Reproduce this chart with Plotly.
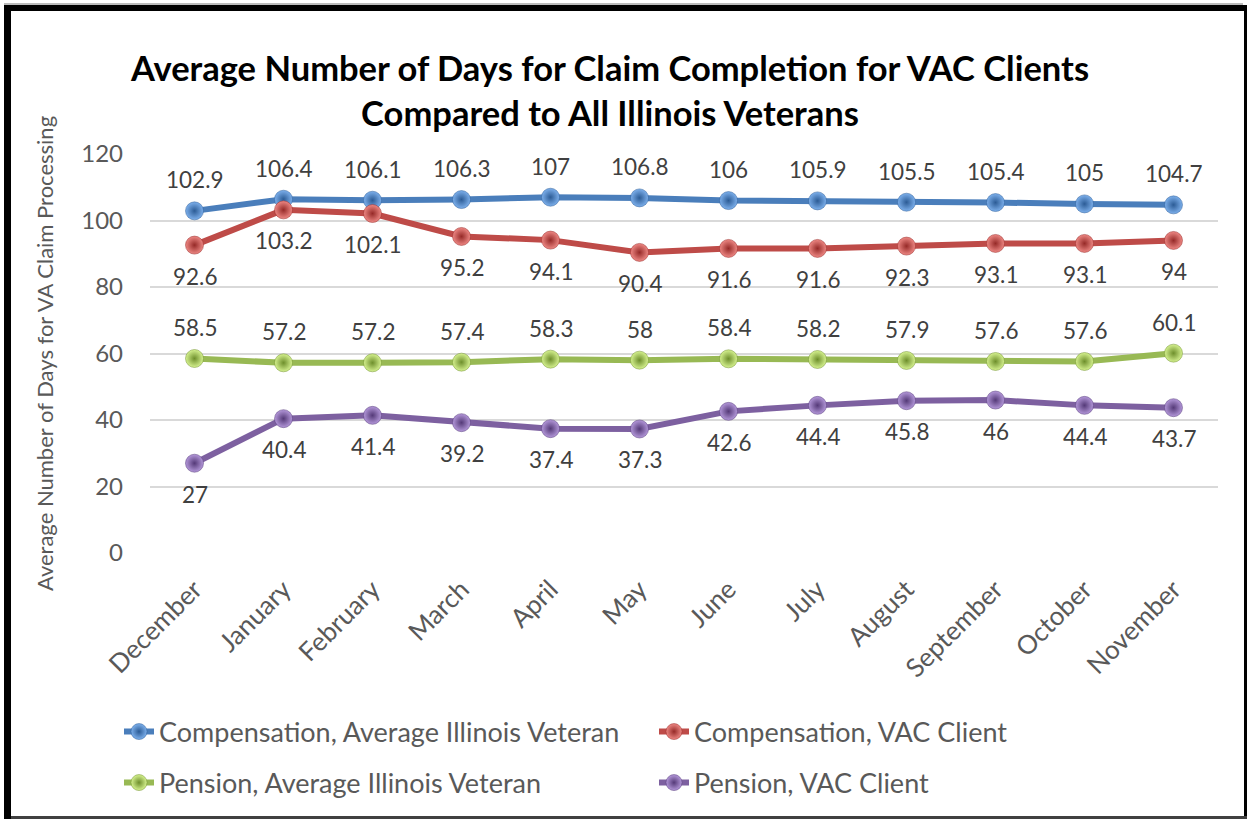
import plotly.graph_objects as go

months = ["December", "January", "February", "March", "April", "May", "June",
          "July", "August", "September", "October", "November"]
comp_avg = [102.9, 106.4, 106.1, 106.3, 107, 106.8, 106, 105.9, 105.5, 105.4, 105, 104.7]
comp_vac = [92.6, 103.2, 102.1, 95.2, 94.1, 90.4, 91.6, 91.6, 92.3, 93.1, 93.1, 94]
pen_avg = [58.5, 57.2, 57.2, 57.4, 58.3, 58, 58.4, 58.2, 57.9, 57.6, 57.6, 60.1]
pen_vac = [27, 40.4, 41.4, 39.2, 37.4, 37.3, 42.6, 44.4, 45.8, 46, 44.4, 43.7]

series = [
    ("Compensation, Average Illinois Veteran", comp_avg, "#4A7EBB", "#7DB0EC", "#2C5C96", 1, "legend"),
    ("Compensation, VAC Client", comp_vac, "#BE4B48", "#EE8884", "#962A28", -1, "legend"),
    ("Pension, Average Illinois Veteran", pen_avg, "#98B954", "#D6F290", "#6E8F2C", 1, "legend2"),
    ("Pension, VAC Client", pen_vac, "#7D60A0", "#B498DA", "#553A78", -1, "legend2"),
]

FONT = "Lato, Calibri, Carlito, sans-serif"
W, H = 1247, 821
ML, MR, MT, MB = 150, 29, 154, 268
PW, PH = W - ML - MR, H - MT - MB

def px(x):
    return (x - ML) / PW

def py(y):
    return (H - MB - y) / PH

fig = go.Figure()
annotations = []
for name, vals, col, light, dark, side, leg in series:
    fig.add_trace(go.Scatter(
        x=months, y=vals, name=name, mode="lines+markers",
        line=dict(color=col, width=6),
        marker=dict(size=18, color=light, gradient=dict(type="radial", color=dark),
                    line=dict(width=0.5, color=dark)),
        legend=leg,
    ))
    for m, v in zip(months, vals):
        annotations.append(dict(
            x=m, y=v, xref="x", yref="y", text=f"{v:g}", showarrow=False,
            yshift=31 * side, font=dict(family=FONT, size=22.5, color="#404040"),
        ))

# chart border (Excel-style frame)
shapes = [
    dict(type="rect", xref="paper", yref="paper", x0=px(4), x1=px(1243), y0=py(3), y1=py(5),
         fillcolor="#BBBBBB", line=dict(width=0), layer="above"),
    dict(type="rect", xref="paper", yref="paper", x0=px(4), x1=px(1244), y0=py(5), y1=py(11),
         fillcolor="black", line=dict(width=0), layer="above"),
    dict(type="rect", xref="paper", yref="paper", x0=px(4), x1=px(11), y0=py(5), y1=py(819),
         fillcolor="black", line=dict(width=0), layer="above"),
    dict(type="rect", xref="paper", yref="paper", x0=px(1244), x1=px(1247), y0=py(5), y1=py(819),
         fillcolor="black", line=dict(width=0), layer="above"),
    dict(type="rect", xref="paper", yref="paper", x0=px(11), x1=px(1247), y0=py(816), y1=py(819),
         fillcolor="#404040", line=dict(width=0), layer="above"),
]

legend_common = dict(
    orientation="h", x=px(119), xanchor="left", yanchor="middle",
    entrywidth=490, entrywidthmode="pixels", font=dict(size=27, color="#595959"),
    bgcolor="rgba(0,0,0,0)",
)

fig.update_layout(
    width=W, height=H,
    margin=dict(l=ML, r=MR, t=MT, b=MB),
    paper_bgcolor="white", plot_bgcolor="white",
    font=dict(family=FONT, color="#595959"),
    title=dict(
        text="Average Number of Days for Claim Completion for VAC Clients<br>Compared to All Illinois Veterans",
        xref="container", x=610 / W, xanchor="center", yref="container", y=1 - 81 / H, yanchor="middle",
        font=dict(family=FONT, size=34.5, color="black", weight="bold"),
    ),
    xaxis=dict(
        type="category", range=[-0.5, 11.5], showgrid=False, showline=False, zeroline=False,
        tickangle=-45, tickfont=dict(size=26, color="#595959"), ticks="",
        ticklabelstandoff=15,
    ),
    yaxis=dict(
        range=[0, 120], dtick=20, showgrid=True, gridcolor="#D9D9D9", gridwidth=1.5,
        zeroline=False, showline=False, ticks="",
        tickfont=dict(size=24, color="#595959"), ticklabelstandoff=26,
        title=dict(text="Average Number of Days for VA Claim Processing",
                   font=dict(size=22, color="#595959"), standoff=21),
    ),
    legend=dict(legend_common, y=py(732)),
    legend2=dict(legend_common, y=py(783)),
    annotations=annotations,
    shapes=shapes,
)

fig.write_html("out.html", config={"displayModeBar": False},
               post_script="document.body.style.margin='0';document.body.style.padding='0';")
